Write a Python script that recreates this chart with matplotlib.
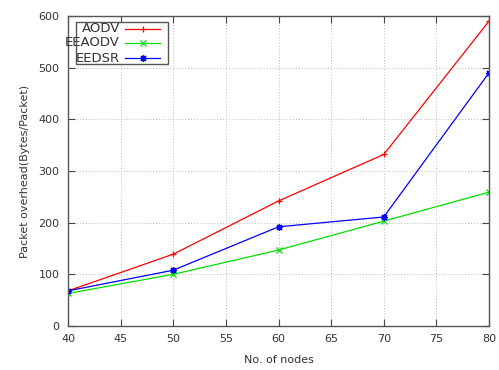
import matplotlib.pyplot as plt
from matplotlib.patches import Rectangle

nodes = [40, 50, 60, 70, 80]
aodv = [68, 139, 242, 332, 590]
eeaodv = [63, 100, 147, 203, 259]
eedsr = [68, 108, 192, 211, 490]

series_names = ['AODV', 'EEAODV', 'EEDSR']
x_ticks = [40, 45, 50, 55, 60, 65, 70, 75, 80]
y_ticks = [0, 100, 200, 300, 400, 500, 600]

W, H = 499, 370
fig = plt.figure(figsize=(W / 100, H / 100), dpi=100)
ax = fig.add_axes([68 / W, 1 - 326 / H, (489 - 68) / W, (326 - 16) / H])

colors = ['#ff0000', '#00e000', '#0000ff']
markers = ['+', 'x', (8, 2, 0)]
for vals, c, m in zip([aodv, eeaodv, eedsr], colors, markers):
    ax.plot(nodes, vals, color=c, lw=0.9, marker=m, ms=5, mew=0.9)

ax.set_xlim(40, 80)
ax.set_ylim(0, 600)
ax.set_xticks(x_ticks)
ax.set_yticks(y_ticks)
ax.tick_params(direction='in', top=True, right=True, length=5, labelsize=8,
               colors='#444444', labelcolor='#333333', pad=6)
ax.grid(True, linestyle=(0, (1, 2)), color='#bbbbbb', lw=0.7)
for s in ax.spines.values():
    s.set_color('#555555')
    s.set_linewidth(1.0)
ax.set_xlabel('No. of nodes', fontsize=8, color='#333333', labelpad=8)
ax.set_ylabel('Packet overhead(Bytes/Packet)', fontsize=8, color='#333333', labelpad=6)

# gnuplot-style key (text left, sample right)
def fx(px):
    return px / W

def fy(py):
    return 1 - py / H

fig.patches.append(Rectangle((fx(76), fy(64)), fx(168) - fx(76), fy(22) - fy(64),
                             transform=fig.transFigure, fill=True, facecolor='white',
                             edgecolor='#555555', lw=1.0, zorder=5))
rows = [29, 43, 58]
for name, c, m, yy in zip(series_names, colors, markers, rows):
    fig.text(fx(120), fy(yy), name, ha='right', va='center', fontsize=9.5,
             color='#333333', zorder=6)
    fig.add_artist(plt.Line2D([fx(125), fx(160)], [fy(yy), fy(yy)], color=c, lw=0.9,
                              transform=fig.transFigure, zorder=6))
    fig.add_artist(plt.Line2D([fx(142.5)], [fy(yy)], color=c, marker=m, ms=5, mew=0.9,
                              transform=fig.transFigure, zorder=6))

fig.savefig('out.png', dpi=100)
